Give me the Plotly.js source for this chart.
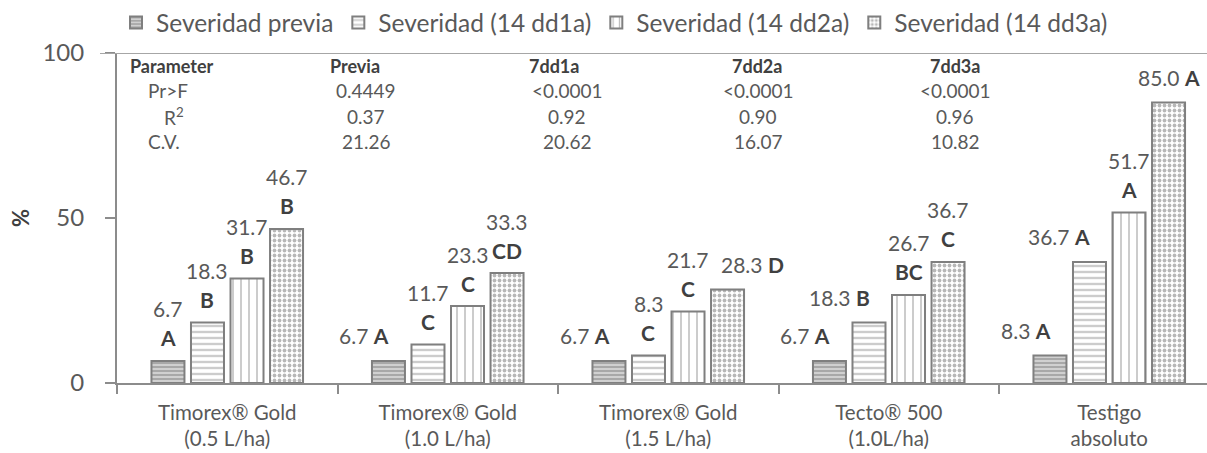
<!DOCTYPE html>
<html><head><meta charset="utf-8">
<script src="https://cdn.plot.ly/plotly-3.0.1.min.js"></script>
<style>html,body{margin:0;padding:0;background:#fff}#chart{width:1207px;height:453px}</style>
</head><body><div id="chart"></div>
<script>
// ---- data ----
const categories = ['Timorex® Gold<br>(0.5 L/ha)', 'Timorex® Gold<br>(1.0 L/ha)', 'Timorex® Gold<br>(1.5 L/ha)', 'Tecto® 500<br>(1.0L/ha)', 'Testigo<br>absoluto'];
const seriesNames = ['Severidad previa', 'Severidad (14 dd1a)', 'Severidad (14 dd2a)', 'Severidad (14 dd3a)'];
const sevPrevia = [6.7, 6.7, 6.7, 6.7, 8.3];
const sevDd1a = [18.3, 11.7, 8.3, 18.3, 36.7];
const sevDd2a = [31.7, 23.3, 21.7, 26.7, 51.7];
const sevDd3a = [46.7, 33.3, 28.3, 36.7, 85.0];
const lettersPrevia = ['A', 'A', 'A', 'A', 'A'];
const lettersDd1a = ['B', 'C', 'C', 'B', 'A'];
const lettersDd2a = ['B', 'C', 'C', 'BC', 'A'];
const lettersDd3a = ['B', 'CD', 'D', 'C', 'A'];
const yTickVals = [0, 50, 100];
const tableHeader = ['Parameter', 'Previa', '7dd1a', '7dd2a', '7dd3a'];
const tableRowLabels = ['Pr>F', 'R<sup>2</sup>', 'C.V.'];
const tablePrevia = ['0.4449', '0.37', '21.26'];
const tableDd1a = ['<0.0001', '0.92', '20.62'];
const tableDd2a = ['<0.0001', '0.90', '16.07'];
const tableDd3a = ['<0.0001', '0.96', '10.82'];

// ---- label placement (style only): s = stacked, l = inline left, r = inline right, c = inline centered
const labelMode = [
  ['s', 'l', 'l', 'l', 'l'],
  ['s', 's', 's', 'l', 'l'],
  ['s', 's', 's', 's', 's'],
  ['s', 's', 'r', 's', 'c']
];

// ---- style ----
const W = 1207, H = 453;
const M = {l: 117, r: 0, t: 49, b: 70};
const plotW = W - M.l - M.r, plotH = H - M.t - M.b;
const catPx = 220.5;
const xRange = [-0.5, -0.5 + plotW / catPx];
const bargap = 0.283, bargroupgap = 0.165;
const FONT = 'Lato, "Open Sans", sans-serif';
const TXT = '#595959', DARK = '#404040', AXIS = '#8c8c8c';

const values = [sevPrevia, sevDd1a, sevDd2a, sevDd3a];
const letters = [lettersPrevia, lettersDd1a, lettersDd2a, lettersDd3a];
const patterns = [
  {shape: '-', size: 4, solidity: 0.5, fgcolor: '#7f7f7f', bgcolor: '#d0d0d0', fillmode: 'overlay'},
  {shape: '-', size: 6, solidity: 0.4, fgcolor: '#9a9a9a', bgcolor: '#ffffff', fillmode: 'overlay'},
  {shape: '|', size: 8, solidity: 0.2, fgcolor: '#7f7f7f', bgcolor: '#ffffff', fillmode: 'overlay'},
  {shape: '.', size: 5, solidity: 0.45, fgcolor: '#6f6f6f', bgcolor: '#ffffff', fillmode: 'overlay'}
];

const traces = values.map((v, i) => ({
  type: 'bar', name: seriesNames[i], x: categories, y: v,
  marker: {color: '#ffffff', line: {color: '#7f7f7f', width: 2}, pattern: patterns[i]},
  hoverinfo: 'skip'
}));

const catW = plotW / (xRange[1] - xRange[0]);
const slotW = catW * (1 - bargap) / values.length;

const px2x = px => (px - M.l) / plotW;
const py2y = py => (M.t + plotH - py) / plotH;

const LBL = 21;
const annotations = [];
values.forEach((v, i) => {
  const off = (i - (values.length - 1) / 2) * slotW;
  v.forEach((val, j) => {
    const mode = labelMode[i][j];
    const valStr = val.toFixed(1);
    const letter = `<span style="color:${DARK}"><b>${letters[i][j]}</b></span>`;
    const base = {x: categories[j], y: val, xref: 'x', yref: 'y', showarrow: false, yanchor: 'middle',
      font: {family: FONT, size: LBL, color: TXT}};
    if (mode === 's') {
      annotations.push(Object.assign({}, base, {text: valStr, xanchor: 'center', xshift: off, yshift: 52}));
      annotations.push(Object.assign({}, base, {text: letter, xanchor: 'center', xshift: off, yshift: 23}));
    } else {
      const text = valStr + ' ' + letter;
      let xanchor = 'center', xs = off;
      if (mode === 'l') { xanchor = 'right'; xs = off + 3; }
      if (mode === 'r') { xanchor = 'left'; xs = off - 9; }
      annotations.push(Object.assign({}, base, {text: text, xanchor: xanchor, xshift: xs, yshift: 25}));
    }
  });
});

// table
const TBL = 19;
const rowY = [87, 113, 139];
const headerY = 62;
const headerX = [128, 328, 554, 757, 955];
const headerAnchor = ['left', 'left', 'center', 'center', 'center'];
tableHeader.forEach((h, k) => annotations.push({
  text: `<b>${h}</b>`, xref: 'paper', yref: 'paper', x: px2x(headerX[k]), y: py2y(headerY),
  xanchor: headerAnchor[k], yanchor: 'middle', showarrow: false, font: {family: FONT, size: TBL - 1, color: DARK}
}));
const rowLabelX = [146, 162, 146];
tableRowLabels.forEach((r, k) => annotations.push({
  text: r, xref: 'paper', yref: 'paper', x: px2x(rowLabelX[k]), y: py2y(rowY[k]),
  xanchor: 'left', yanchor: 'middle', showarrow: false, font: {family: FONT, size: TBL, color: TXT}
}));
const colX = [366, 567, 758, 955];
[tablePrevia, tableDd1a, tableDd2a, tableDd3a].forEach((col, c) => col.forEach((t, k) => annotations.push({
  text: t.replace('<', '&lt;'), xref: 'paper', yref: 'paper', x: px2x(colX[c]), y: py2y(rowY[k]),
  xanchor: 'center', yanchor: 'middle', showarrow: false, font: {family: FONT, size: TBL, color: TXT}
})));

const layout = {
  width: W, height: H, margin: M, paper_bgcolor: '#fff', plot_bgcolor: '#fff',
  barmode: 'group', bargap: bargap, bargroupgap: bargroupgap,
  font: {family: FONT, color: TXT},
  showlegend: true,
  legend: {orientation: 'h', x: px2x(116), xanchor: 'left', y: py2y(18), yanchor: 'middle',
    font: {family: FONT, size: 24.5, color: TXT}, itemwidth: 30, traceorder: 'normal', itemclick: false},
  xaxis: {type: 'category', range: xRange, showline: true, linecolor: AXIS, linewidth: 2,
    ticks: 'outside', ticklen: 9, tickcolor: AXIS, tickwidth: 2, tickson: 'boundaries', ticklabelstandoff: 10,
    tickfont: {family: FONT, size: 20.5, color: TXT}, showgrid: false, zeroline: false, fixedrange: true},
  yaxis: {range: [0, 100], tickvals: yTickVals, showline: true, linecolor: AXIS, linewidth: 2,
    ticks: 'outside', ticklen: 10, tickcolor: AXIS, tickwidth: 2, ticklabelstandoff: 16,
    tickfont: {family: FONT, size: 24, color: TXT}, showgrid: false, zeroline: false,
    title: {text: '<b>%</b>', font: {family: FONT, size: 22, color: DARK}, standoff: 7}, fixedrange: true},
  shapes: [{type: 'line', xref: 'paper', yref: 'y', x0: px2x(100), x1: 1, y0: 100, y1: 100,
    line: {color: '#a6a6a6', width: 2}}],
  annotations: annotations
};

Plotly.newPlot('chart', traces, layout, {displayModeBar: false, staticPlot: true});
</script>
</body></html>
